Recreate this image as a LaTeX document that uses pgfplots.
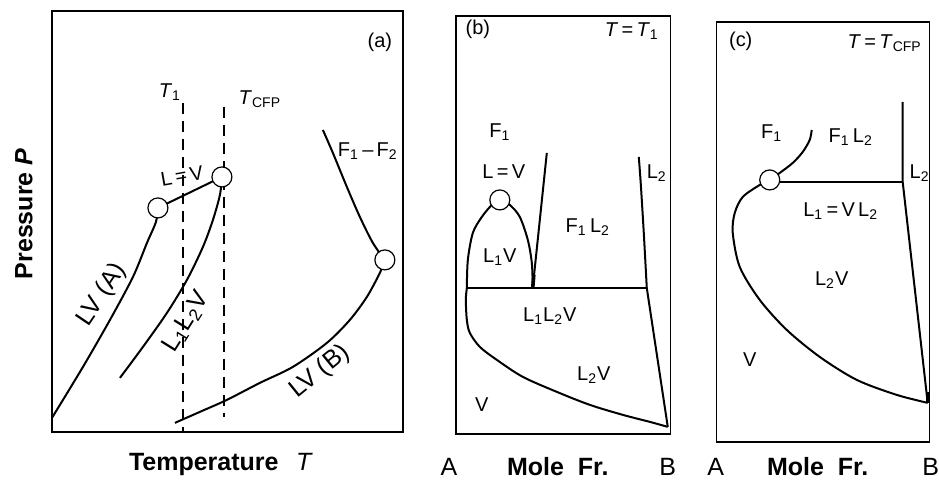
\documentclass[border=0pt]{standalone}
\usepackage{fontspec}
\setmainfont{Liberation Sans}
\usepackage{pgfplots}
\pgfplotsset{compat=1.18}

% Schematic phase diagrams: P-T projection and two P-x isotherms.
% All panels share one frame of reference (0.5pt per unit).
\pgfplotsset{
  panel/.style={
    x=0.5pt, y=0.5pt,
    enlargelimits=false,
    axis line style={line width=0.7pt},
    xtick=\empty, ytick=\empty,
    clip=false,
    anchor=south west,
  },
  curve/.style={no marks, line width=1pt, smooth},
  seg/.style={no marks, line width=1pt},
  isotherm/.style={no marks, line width=0.65pt, dash pattern=on 5.5pt off 3.5pt},
  crit/.style={only marks, mark=*, mark size=5pt,
    mark options={fill=white, draw=black, line width=0.6pt}},
}
\tikzset{
  lab/.style={inner sep=0pt, font=\fontsize{10}{12}\selectfont},
  rlab/.style={inner sep=0pt, font=\fontsize{12.5}{14}\selectfont},
  axlab/.style={inner sep=0pt, font=\fontsize{12.5}{14}\selectfont},
}
\newcommand\sub[1]{\textsubscript{#1}}

\begin{document}
\begin{tikzpicture}
\path (0,0) rectangle (469.5pt,244.5pt);

% ---------------- (a) P-T projection ----------------
\begin{axis}[panel, at={(26pt,28.5pt)}, xmin=52, xmax=403, ymin=57, ymax=478]
  \addplot[curve] coordinates {(52,71) (83,122) (110,169) (133,212) (147,246) (156,267) (158,281)};
  \addplot[seg] coordinates {(158,281) (222,312)};
  \addplot[curve] coordinates {(120,111) (143,142) (167,176) (187,209) (203,242) (213,269) (220,294) (222,312)};
  \addplot[curve] coordinates {(323,359) (333,336) (347,302) (360,272) (373,246) (385,229)};
  \addplot[curve] coordinates {(385,229) (380,216) (367,192) (350,169) (327,146) (293,122) (260,106) (227,89) (200,77) (175,66)};
  \addplot[isotherm] coordinates {(183,386) (183,57)};
  \addplot[isotherm] coordinates {(224,382) (224,72)};
  \addplot[crit] coordinates {(158,281) (222,312) (385,229)};

  \node[lab] at (axis cs:380,447) {(a)};
  \node[lab] at (axis cs:170,397) {\textit{T}\sub{1}};
  \node[lab] at (axis cs:260,390) {\textit{T}\sub{CFP}};
  \node[lab, rotate=10] at (axis cs:182,313) {L\,=\,V};
  \node[rlab, rotate=56] at (axis cs:102,194) {LV (A)};
  \node[rlab, rotate=58] at (axis cs:186,167) {L\sub{1}L\sub{2}V};
  \node[rlab, rotate=39] at (axis cs:320,117) {LV (B)};
  \node[lab] at (axis cs:368,338) {F\sub{1}\,--\,F\sub{2}};

  \node[axlab, rotate=90] at (axis cs:24,275) {\textbf{Pressure \textit{P}}};
  \node[axlab] at (axis cs:221,24) {\textbf{Temperature}\hspace{0.7em}\textit{T}};
\end{axis}

% ---------------- (b) P-x at T = T1 ----------------
\begin{axis}[panel, at={(228pt,27.5pt)}, xmin=456, xmax=671, ymin=55, ymax=473]
  \addplot[curve] coordinates {(467,201) (468,229) (473,256) (482,272) (492,284) (500,289) (510,284) (520,272) (528,249) (532,226) (533,202)};
  \addplot[seg] coordinates {(533,202) (547,336)};
  \addplot[no marks, line width=1.8pt] coordinates {(533,202) (534,214)};
  \addplot[curve] coordinates {(639,332) (641,305) (644,256) (647,201)};
  \addplot[seg] coordinates {(647,201) (668,62)};
  \addplot[seg] coordinates {(467,201) (647,201)};
  \addplot[curve] coordinates {(467,201) (466,189) (467,169) (470,156) (480,142) (497,129) (523,112) (557,97) (590,84) (623,74) (650,67) (668,62)};
  \addplot[crit] coordinates {(500,289)};

  \node[lab] at (axis cs:478,460) {(b)};
  \node[lab] at (axis cs:632,458) {\textit{T}\,=\,\textit{T}\sub{1}};
  \node[lab] at (axis cs:500,357) {F\sub{1}};
  \node[lab] at (axis cs:504,317) {L\,=\,V};
  \node[lab] at (axis cs:500,232) {L\sub{1}V};
  \node[lab] at (axis cs:588,262) {F\sub{1}\,L\sub{2}};
  \node[lab] at (axis cs:657,316) {L\sub{2}};
  \node[lab] at (axis cs:550,173) {L\sub{1}L\sub{2}V};
  \node[lab] at (axis cs:594,114) {L\sub{2}V};
  \node[lab] at (axis cs:482,84) {V};

  \node[axlab] at (axis cs:449,22) {A};
  \node[axlab] at (axis cs:558,22) {\textbf{Mole\ \ Fr.}};
  \node[axlab] at (axis cs:668,22) {B};
\end{axis}

% ---------------- (c) P-x at T = T_CFP ----------------
\begin{axis}[panel, at={(358.5pt,23.5pt)}, xmin=717, xmax=930, ymin=47, ymax=467]
  \addplot[curve] coordinates {(770,309) (780,316) (793,326) (803,337) (810,349) (812,359)};
  \addplot[seg] coordinates {(770,307) (903,307)};
  \addplot[seg] coordinates {(903,387) (903,307) (928,86)};
  \addplot[no marks, line width=1.8pt] coordinates {(928,86) (928,97)};
  \addplot[curve] coordinates {(770,309) (760,304) (743,292) (735,276) (733,256) (740,222) (760,189) (787,159) (820,132) (857,109) (897,94) (928,86)};
  \addplot[crit] coordinates {(770,309)};

  \node[lab] at (axis cs:741,448) {(c)};
  \node[lab] at (axis cs:885,446) {\textit{T}\,=\,\textit{T}\sub{CFP}};
  \node[lab] at (axis cs:772,356) {F\sub{1}};
  \node[lab] at (axis cs:851,352) {F\sub{1}\,L\sub{2}};
  \node[lab] at (axis cs:920,316) {L\sub{2}};
  \node[lab] at (axis cs:841,278) {L\sub{1}\,=\,V\,L\sub{2}};
  \node[lab] at (axis cs:832,209) {L\sub{2}V};
  \node[lab] at (axis cs:750,129) {V};

  \node[axlab] at (axis cs:716,22) {A};
  \node[axlab] at (axis cs:818,22) {\textbf{Mole\ \ Fr.}};
  \node[axlab] at (axis cs:931,22) {B};
\end{axis}
\end{tikzpicture}
\end{document}
